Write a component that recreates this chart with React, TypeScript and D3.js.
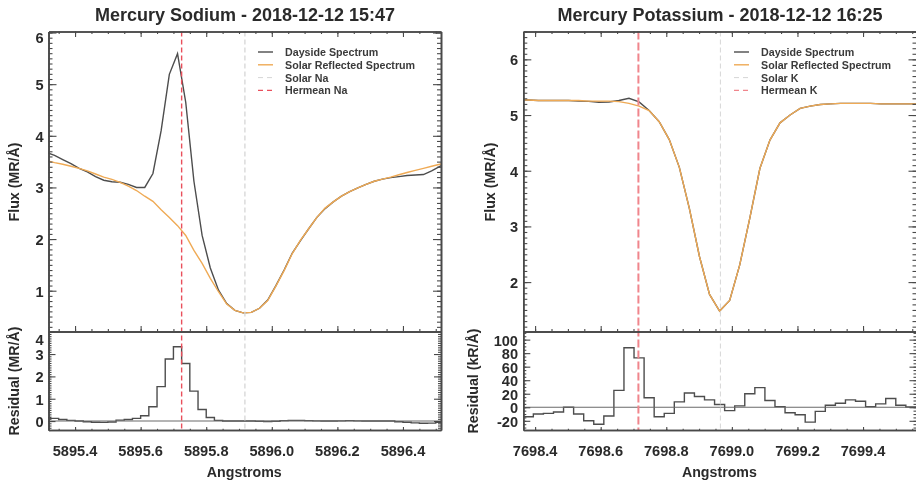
import { useEffect, useRef } from 'react';
import * as d3 from 'd3';

const FONT = '"Liberation Sans", Arial, sans-serif';
const AXIS = '#4a4a4a';
const TEXT = '#2b2b2b';
const DAYSIDE = '#4d4d4d';
const REFLECTED = '#efaa55';
const SOLAR_LINE = '#d6d6d6';

// Sodium spectrum (0.025 A sampling)
const naWave = [
  5895.3125, 5895.3375, 5895.3625, 5895.3875, 5895.4125, 5895.4375, 5895.4625, 5895.4875, 5895.5125, 5895.5375,
  5895.5625, 5895.5875, 5895.6125, 5895.6375, 5895.6625, 5895.6875, 5895.7125, 5895.7375, 5895.7625, 5895.7875,
  5895.8125, 5895.8375, 5895.8625, 5895.8875, 5895.9125, 5895.9375, 5895.9625, 5895.9875, 5896.0125, 5896.0375,
  5896.0625, 5896.0875, 5896.1125, 5896.1375, 5896.1625, 5896.1875, 5896.2125, 5896.2375, 5896.2625, 5896.2875,
  5896.3125, 5896.3375, 5896.3625, 5896.3875, 5896.4125, 5896.4375, 5896.4625, 5896.4875, 5896.5125, 5896.5375,
];
const naDayside = [
  3.68, 3.62, 3.54, 3.46, 3.37, 3.3, 3.21, 3.14, 3.11, 3.1,
  3.06, 3.0, 3.0, 3.27, 4.1, 5.19, 5.59, 4.65, 3.12, 2.07,
  1.44, 1.01, 0.75, 0.62, 0.57, 0.58, 0.66, 0.82, 1.1, 1.4,
  1.73, 1.97, 2.2, 2.42, 2.59, 2.72, 2.83, 2.92, 2.99, 3.06,
  3.12, 3.16, 3.19, 3.21, 3.23, 3.24, 3.25, 3.32, 3.41, 3.48,
];
const naReflected = [
  3.52, 3.48, 3.45, 3.41, 3.37, 3.32, 3.26, 3.2, 3.155, 3.1,
  3.025, 2.94, 2.83, 2.73, 2.57, 2.42, 2.26, 2.07, 1.78, 1.53,
  1.24, 0.98, 0.74, 0.62, 0.57, 0.58, 0.66, 0.81, 1.09, 1.39,
  1.72, 1.98, 2.2, 2.42, 2.6, 2.72, 2.83, 2.92, 2.99, 3.06,
  3.12, 3.16, 3.2, 3.245, 3.29, 3.33, 3.37, 3.41, 3.45, 3.48,
];
const naResidual = [
  0.15, 0.12, 0.07, 0.03, 0.0, -0.03, -0.05, -0.06, -0.04, 0.04,
  0.07, 0.12, 0.24, 0.64, 1.54, 2.78, 3.33, 2.58, 1.34, 0.52,
  0.16, 0.03, 0.0, 0.0, 0.0, 0.0, -0.01, -0.02, -0.01, 0.02,
  0.03, 0.03, 0.02, 0.01, 0.0, 0.0, 0.01, 0.02, 0.01, 0.0,
  0.0, 0.0, 0.0, -0.03, -0.05, -0.08, -0.1, -0.09, -0.05, 0.0,
];

// Potassium spectrum (0.0307 A sampling)
const kWave = [
  7698.3486, 7698.3793, 7698.41, 7698.4407, 7698.4714, 7698.5021, 7698.5328, 7698.5635, 7698.5942, 7698.6249,
  7698.6556, 7698.6863, 7698.717, 7698.7477, 7698.7784, 7698.8091, 7698.8398, 7698.8705, 7698.9012, 7698.9319,
  7698.9626, 7698.9933, 7699.024, 7699.0547, 7699.0854, 7699.1161, 7699.1468, 7699.1775, 7699.2082, 7699.2389,
  7699.2696, 7699.3003, 7699.331, 7699.3617, 7699.3924, 7699.4231, 7699.4538, 7699.4845, 7699.5152, 7699.5459,
  7699.5766,
];
const kDayside = [
  5.27, 5.27, 5.26, 5.26, 5.26, 5.26, 5.25, 5.245, 5.23, 5.235,
  5.26, 5.3, 5.235, 5.08, 4.88, 4.56, 4.06, 3.32, 2.46, 1.78,
  1.48, 1.67, 2.31, 3.15, 4.04, 4.55, 4.86, 5.0, 5.12, 5.16,
  5.19, 5.2, 5.21, 5.21, 5.21, 5.21, 5.2, 5.2, 5.2, 5.2,
  5.2,
];
const kReflected = [
  5.28, 5.27, 5.26, 5.26, 5.26, 5.26, 5.26, 5.25, 5.25, 5.25,
  5.24, 5.21, 5.16, 5.08, 4.88, 4.56, 4.06, 3.32, 2.46, 1.78,
  1.48, 1.67, 2.31, 3.15, 4.04, 4.55, 4.86, 5.0, 5.12, 5.16,
  5.19, 5.2, 5.21, 5.21, 5.21, 5.21, 5.2, 5.2, 5.2, 5.2,
  5.2,
];
const kResidual = [
  -14, -14, -10, -9, -7, 0, -10, -20, -25, -13,
  25, 88, 73, 14, -14, -9, 8, 21, 16, 11,
  4, -5, 2, 20, 29, 10, 1, -8, -11, -22,
  -6, 3, 6, 11, 9, 1, 5, 13, 3, 0.5,
  0,
];

const naFluxTicks = [1, 2, 3, 4, 5, 6];
const kFluxTicks = [2, 3, 4, 5, 6];
const naResidualTicks = [0, 1, 2, 3, 4];
const kResidualTicks = [-20, 0, 20, 40, 60, 80, 100];
const naWaveTicks = [5895.4, 5895.6, 5895.8, 5896.0, 5896.2, 5896.4];
const kWaveTicks = [7698.4, 7698.6, 7698.8, 7699.0, 7699.2, 7699.4];

interface PanelConfig {
  id: string;
  title: string;
  titleX: number;
  left: number;
  right: number;
  xDomain: [number, number];
  fluxDomain: [number, number];
  residualDomain: [number, number];
  wave: number[];
  dayside: number[];
  reflected: number[];
  residual: number[];
  waveTicks: number[];
  fluxTicks: number[];
  residualTicks: number[];
  residualMinorStep: number;
  solarWave: number;
  hermeanWave: number;
  hermeanColor: string;
  hermeanWidth: number;
  hermeanDash: string;
  solarWidth: number;
  legend: string[];
  legendX: number;
  residualLabel: string;
  fluxLabelX: number;
  residualLabelX: number;
  labelRight: number;
}

const panels: PanelConfig[] = [
  {
    id: 'na',
    title: 'Mercury Sodium - 2018-12-12 15:47',
    titleX: 245,
    left: 48.5,
    right: 441,
    xDomain: [5895.319, 5896.516],
    fluxDomain: [0.21, 6.02],
    residualDomain: [-0.4, 4.01],
    wave: naWave,
    dayside: naDayside,
    reflected: naReflected,
    residual: naResidual,
    waveTicks: naWaveTicks,
    fluxTicks: naFluxTicks,
    residualTicks: naResidualTicks,
    residualMinorStep: 0.1,
    solarWave: 5895.918,
    hermeanWave: 5895.725,
    hermeanColor: '#e9505c',
    hermeanWidth: 1.4,
    hermeanDash: '5 3',
    solarWidth: 1.3,
    legend: ['Dayside Spectrum', 'Solar Reflected Spectrum', 'Solar Na', 'Hermean Na'],
    legendX: 258,
    residualLabel: 'Residual (MR/Å)',
    fluxLabelX: 14,
    residualLabelX: 14,
    labelRight: 43.5,
  },
  {
    id: 'k',
    title: 'Mercury Potassium - 2018-12-12 16:25',
    titleX: 720,
    left: 523.3,
    right: 916.5,
    xDomain: [7698.364, 7699.563],
    fluxDomain: [1.113, 6.5],
    residualDomain: [-33.6, 112],
    wave: kWave,
    dayside: kDayside,
    reflected: kReflected,
    residual: kResidual,
    waveTicks: kWaveTicks,
    fluxTicks: kFluxTicks,
    residualTicks: kResidualTicks,
    residualMinorStep: 5,
    solarWave: 7698.965,
    hermeanWave: 7698.715,
    hermeanColor: '#f0858c',
    hermeanWidth: 2,
    hermeanDash: '8 3',
    solarWidth: 1,
    legend: ['Dayside Spectrum', 'Solar Reflected Spectrum', 'Solar K', 'Hermean K'],
    legendX: 734,
    residualLabel: 'Residual (kR/Å)',
    fluxLabelX: 490,
    residualLabelX: 473,
    labelRight: 518,
  },
];

const TOP = 31.5;
const SPLIT = 331.5;
const BOTTOM = 430;

function minorValues(domain: [number, number], step: number) {
  const lo = Math.ceil(domain[0] / step - 1e-6);
  const hi = Math.floor(domain[1] / step + 1e-6);
  return d3.range(lo, hi + 1).map((i) => +(i * step).toFixed(4));
}

function drawPanel(svg: d3.Selection<SVGSVGElement, unknown, null, undefined>, p: PanelConfig) {
  const x = d3.scaleLinear().domain(p.xDomain).range([p.left, p.right]);
  const yFlux = d3.scaleLinear().domain(p.fluxDomain).range([SPLIT, TOP]);
  const yRes = d3.scaleLinear().domain(p.residualDomain).range([BOTTOM, SPLIT]);

  const defs = svg.append('defs');
  defs.append('clipPath').attr('id', `clip-flux-${p.id}`)
    .append('rect').attr('x', p.left).attr('y', TOP).attr('width', p.right - p.left).attr('height', SPLIT - TOP);
  defs.append('clipPath').attr('id', `clip-res-${p.id}`)
    .append('rect').attr('x', p.left).attr('y', SPLIT).attr('width', p.right - p.left).attr('height', BOTTOM - SPLIT);
  // the source image is a soft upscaled bitmap
  defs.append('filter').attr('id', `soft-${p.id}`)
    .attr('filterUnits', 'userSpaceOnUse').attr('x', 0).attr('y', 0).attr('width', 916).attr('height', 482)
    .append('feGaussianBlur').attr('stdDeviation', 0.4);

  const g = svg.append('g').attr('filter', `url(#soft-${p.id})`);

  // Spectra
  const flux = g.append('g').attr('clip-path', `url(#clip-flux-${p.id})`);
  const line = d3.line<number>().x((_, i) => x(p.wave[i])).y((d) => yFlux(d));
  flux.append('path').attr('d', line(p.dayside)).attr('fill', 'none')
    .attr('stroke', DAYSIDE).attr('stroke-width', 1.4);
  flux.append('path').attr('d', line(p.reflected)).attr('fill', 'none')
    .attr('stroke', REFLECTED).attr('stroke-width', 1.4);

  // Residual histogram
  const res = g.append('g').attr('clip-path', `url(#clip-res-${p.id})`);
  const stepLine = d3.line<number>().curve(d3.curveStep).x((_, i) => x(p.wave[i])).y((d) => yRes(d));
  res.append('path').attr('d', stepLine(p.residual)).attr('fill', 'none')
    .attr('stroke', DAYSIDE).attr('stroke-width', 1.4);
  res.append('line').attr('x1', p.left).attr('x2', p.right).attr('y1', yRes(0)).attr('y2', yRes(0))
    .attr('stroke', '#6a6a6a').attr('stroke-width', 1.1);

  // Rest wavelengths run through both panels
  g.append('line').attr('x1', x(p.solarWave)).attr('x2', x(p.solarWave)).attr('y1', TOP).attr('y2', BOTTOM)
    .attr('stroke', SOLAR_LINE).attr('stroke-width', p.solarWidth).attr('stroke-dasharray', '5 3');
  g.append('line').attr('x1', x(p.hermeanWave)).attr('x2', x(p.hermeanWave)).attr('y1', TOP).attr('y2', BOTTOM)
    .attr('stroke', p.hermeanColor).attr('stroke-width', p.hermeanWidth).attr('stroke-dasharray', p.hermeanDash);

  // Axes: frames and inward ticks
  const xMinor = minorValues(p.xDomain, 0.05);
  const addAxis = (
    axis: d3.Axis<d3.NumberValue>,
    tx: number,
    ty: number,
  ) => {
    const a = g.append('g').attr('transform', `translate(${tx},${ty})`).call(axis as any);
    a.selectAll('text').remove();
    a.select('.domain').attr('stroke', AXIS).attr('stroke-width', 1.6);
    a.selectAll('line').attr('stroke', AXIS).attr('stroke-width', 1.1);
    return a;
  };

  const xAxisFor = (make: (s: any) => d3.Axis<d3.NumberValue>, values: number[], size: number) =>
    make(x).tickValues(values).tickSize(size).tickSizeOuter(0).tickFormat(() => '');

  // top panel: ticks hang from the top, rise from the split line
  addAxis(xAxisFor(d3.axisBottom, xMinor, 2.5), 0, TOP);
  addAxis(xAxisFor(d3.axisBottom, p.waveTicks, 5.5), 0, TOP);
  addAxis(xAxisFor(d3.axisTop, xMinor, 2.5), 0, SPLIT);
  addAxis(xAxisFor(d3.axisTop, p.waveTicks, 5.5), 0, SPLIT);
  // residual panel: shorter ticks
  addAxis(xAxisFor(d3.axisTop, xMinor, 1.2), 0, BOTTOM);
  addAxis(xAxisFor(d3.axisTop, p.waveTicks, 3), 0, BOTTOM);
  addAxis(xAxisFor(d3.axisBottom, p.waveTicks, 1.5), 0, SPLIT);

  const yAxes = (scale: d3.ScaleLinear<number, number>, major: number[], minorStep: number, majorLen: number, minorLen: number) => {
    const minor = minorValues(scale.domain() as [number, number], minorStep);
    const empty = () => '';
    addAxis(d3.axisRight(scale).tickValues(minor).tickSize(minorLen).tickSizeOuter(0).tickFormat(empty), p.left, 0);
    addAxis(d3.axisRight(scale).tickValues(major).tickSize(majorLen).tickSizeOuter(0).tickFormat(empty), p.left, 0);
    addAxis(d3.axisLeft(scale).tickValues(minor).tickSize(minorLen).tickSizeOuter(0).tickFormat(empty), p.right, 0);
    addAxis(d3.axisLeft(scale).tickValues(major).tickSize(majorLen).tickSizeOuter(0).tickFormat(empty), p.right, 0);
  };
  yAxes(yFlux, p.fluxTicks, 0.1, 8, 4);
  yAxes(yRes, p.residualTicks, p.residualMinorStep, 7, 3);

  // Tick labels
  const tickLabel = (val: string, tx: number, ty: number, anchor: string) =>
    g.append('text').attr('x', tx).attr('y', ty).attr('text-anchor', anchor)
      .attr('dominant-baseline', 'central')
      .attr('font-family', FONT).attr('font-weight', 700).attr('font-size', 14.6).attr('fill', TEXT)
      .text(val);

  p.fluxTicks.forEach((v) => {
    tickLabel(String(v), p.labelRight, Math.max(yFlux(v) + 1, 38), 'end');
  });
  p.residualTicks.forEach((v) => {
    tickLabel(String(v), p.labelRight, Math.max(yRes(v) + 1, 340), 'end');
  });
  p.waveTicks.forEach((v) => {
    tickLabel(v.toFixed(1), x(v), 451, 'middle');
  });

  // Axis titles
  const axisTitle = (val: string, tx: number, ty: number, rotate: boolean) =>
    g.append('text')
      .attr('transform', `translate(${tx},${ty})${rotate ? ' rotate(-90)' : ''}`)
      .attr('text-anchor', 'middle').attr('dominant-baseline', 'central')
      .attr('font-family', FONT).attr('font-weight', 700).attr('font-size', 14.2).attr('fill', TEXT)
      .text(val);

  axisTitle('Angstroms', x((p.xDomain[0] + p.xDomain[1]) / 2) - 0.5, 472, false);
  axisTitle('Flux (MR/Å)', p.fluxLabelX, 182, true);
  axisTitle(p.residualLabel, p.residualLabelX, 381, true);

  // Title
  g.append('text').attr('x', p.titleX).attr('y', 15).attr('text-anchor', 'middle')
    .attr('dominant-baseline', 'central')
    .attr('font-family', FONT).attr('font-weight', 700).attr('font-size', 18).attr('fill', TEXT)
    .text(p.title);

  // Legend
  const legendStyles = [
    { color: DAYSIDE, width: 1.4, dash: null },
    { color: REFLECTED, width: 1.4, dash: null },
    { color: SOLAR_LINE, width: 1, dash: '5 4' },
    { color: p.hermeanColor, width: 1.3, dash: '5 4' },
  ];
  p.legend.forEach((label, i) => {
    const ly = 52 + i * 12.8;
    const s = legendStyles[i];
    const l = g.append('line').attr('x1', p.legendX).attr('x2', p.legendX + 15).attr('y1', ly).attr('y2', ly)
      .attr('stroke', s.color).attr('stroke-width', s.width);
    if (s.dash) l.attr('stroke-dasharray', s.dash);
    g.append('text').attr('x', p.legendX + 27).attr('y', ly).attr('dominant-baseline', 'central')
      .attr('font-family', FONT).attr('font-weight', 700).attr('font-size', 10.7).attr('fill', '#3a3a3a')
      .text(label);
  });
}

export default function App() {
  const svgRef = useRef<SVGSVGElement>(null);

  useEffect(() => {
    if (!svgRef.current) return;
    const svg = d3.select(svgRef.current);
    svg.selectAll('*').remove();
    panels.forEach((p) => drawPanel(svg, p));
  }, []);

  return (
    <svg
      ref={svgRef}
      width={916}
      height={482}
      viewBox="0 0 916 482"
      style={{ position: 'absolute', left: 0, top: 0, background: '#fff' }}
    />
  );
}
